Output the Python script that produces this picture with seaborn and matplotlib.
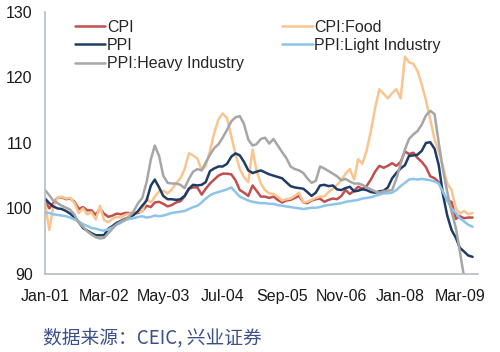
import pandas as pd
import matplotlib
matplotlib.use('Agg')
import matplotlib.pyplot as plt
import seaborn as sns
from matplotlib.lines import Line2D

# monthly, Jan-2001 .. Jun-2009
months = pd.date_range('2001-01-01', periods=102, freq='MS')

cpi = [
    101.2, 100.0, 100.8, 101.6, 101.7, 101.4, 101.5, 101.0, 99.9, 100.2, 99.7, 99.7,
    99.0, 100.0, 99.2, 98.7, 98.9, 99.2, 99.1, 99.3, 99.3, 99.2, 99.3, 99.6,
    100.4, 100.2, 100.9, 101.0, 100.7, 100.3, 100.5, 100.9, 101.1, 101.8, 103.0, 103.2,
    103.2, 102.1, 103.0, 103.8, 104.4, 105.0, 105.3, 105.3, 105.2, 104.3, 102.8, 102.4,
    101.9, 103.5, 102.7, 101.8, 101.8, 101.6, 101.8, 101.3, 100.9, 101.2, 101.3, 101.6,
    101.9, 100.9, 100.8, 101.2, 101.4, 101.5, 101.0, 101.3, 101.5, 101.4, 101.9, 102.8,
    102.2, 102.7, 103.3, 103.0, 103.4, 104.4, 105.6, 106.5, 106.2, 106.5, 106.9, 106.5,
    107.1, 108.7, 108.3, 108.5, 107.7, 107.1, 106.3, 104.9, 104.6, 104.0, 102.4, 101.2,
    101.0, 98.4, 98.8, 98.5, 98.6, 98.6,
]
cpi_food = [
    100.8, 96.7, 100.2, 101.6, 101.8, 101.5, 101.6, 100.8, 99.3, 100.0, 99.1, 99.4,
    98.3, 100.4, 98.2, 97.9, 98.4, 98.7, 98.6, 99.0, 99.2, 99.1, 99.5, 99.5,
    101.5, 100.9, 101.8, 102.6, 102.7, 102.3, 102.9, 103.8, 104.6, 106.0, 108.4, 108.1,
    107.6, 105.8, 106.5, 108.8, 111.5, 113.6, 114.5, 113.8, 111.0, 108.3, 106.0, 104.8,
    104.0, 109.0, 105.8, 103.8, 102.8, 102.3, 102.2, 101.8, 101.2, 101.4, 101.5, 101.9,
    102.4, 100.9, 101.0, 101.3, 101.6, 101.8, 101.8, 102.5, 103.0, 103.6, 104.3, 105.3,
    106.0, 104.4, 107.5, 106.8, 108.8, 111.8, 115.3, 118.2, 117.5, 116.8, 117.6, 118.2,
    116.8, 123.2, 122.3, 122.1, 121.0, 118.9, 116.5, 113.6, 110.5, 108.6, 106.3, 103.8,
    102.8, 100.0, 99.2, 99.6, 99.1, 99.3,
]
ppi = [
    101.5, 100.8, 100.3, 100.0, 99.9, 99.6, 99.2, 98.6, 97.9, 97.0, 96.6, 96.2,
    95.9, 95.9, 95.9, 96.9, 97.3, 97.8, 98.1, 98.4, 98.7, 99.0, 99.6, 100.4,
    101.2, 103.5, 104.4, 103.2, 101.9, 101.4, 101.4, 101.3, 101.4, 101.9, 103.0, 103.6,
    103.5, 103.6, 104.0, 105.7, 106.1, 106.4, 106.4, 106.8, 107.9, 108.4, 108.1, 107.1,
    105.8, 105.4, 105.6, 105.8, 105.5, 105.2, 105.0, 104.8, 104.6, 104.0, 103.4, 103.2,
    103.1, 103.0, 102.5, 101.9, 102.4, 103.5, 103.6, 103.4, 103.5, 102.9, 102.8, 103.1,
    103.3, 102.6, 102.7, 102.9, 102.8, 102.5, 102.4, 102.6, 102.7, 103.2, 104.6, 105.4,
    106.1, 106.6, 108.0, 108.1, 108.2, 108.8, 110.0, 110.1, 109.1, 106.6, 102.0, 98.9,
    96.7, 95.5, 94.0, 93.4, 92.8, 92.6,
]
ppi_light = [
    99.4, 99.3, 99.1, 99.0, 98.9, 98.8, 98.6, 98.3, 98.0, 97.6, 97.3, 97.0,
    96.9, 96.7, 96.6, 96.8, 97.1, 97.5, 97.8, 98.2, 98.4, 98.5, 98.7, 98.8,
    98.6, 98.7, 98.9, 98.8, 98.9, 99.1, 99.3, 99.4, 99.5, 99.6, 99.9, 100.2,
    100.4, 100.9, 101.5, 102.0, 102.3, 102.5, 102.7, 102.9, 103.2, 102.5, 101.8, 101.5,
    101.2, 101.0, 100.9, 100.8, 100.8, 100.7, 100.7, 100.5, 100.4, 100.3, 100.2, 100.1,
    100.0, 99.9, 100.0, 100.1, 100.1, 100.2, 100.4, 100.5, 100.6, 100.7, 100.8, 101.0,
    101.1, 101.2, 101.3, 101.5, 101.6, 101.7, 101.9, 102.1, 102.3, 102.3, 102.4, 102.8,
    103.4, 103.9, 104.4, 104.5, 104.4, 104.5, 104.4, 104.3, 104.1, 103.8, 102.5, 101.2,
    100.0, 99.3, 98.5, 98.0, 97.5, 97.2,
]
ppi_heavy = [
    102.8, 102.0, 101.2, 100.8, 100.4, 100.1, 99.8, 99.0, 97.8, 97.2, 96.5, 96.0,
    95.6, 95.4, 95.5, 96.2, 96.9, 97.6, 98.0, 98.3, 98.8, 99.6, 100.8, 101.6,
    104.0, 107.5, 109.6, 108.0, 105.0, 103.9, 103.8, 103.8, 103.6, 103.1, 104.5, 105.6,
    106.0, 105.8, 107.0, 108.2, 109.2, 109.8, 110.8, 112.0, 113.3, 113.9, 114.1, 112.9,
    110.5, 109.6, 109.8, 110.6, 110.8, 109.9, 110.6, 109.6, 108.6, 107.7, 106.4, 106.0,
    105.8, 105.4, 104.6, 103.9, 104.2, 106.4, 106.1, 105.7, 105.3, 104.9, 104.3, 104.5,
    104.1, 103.8, 103.8, 103.6, 103.2, 102.9, 102.6, 102.4, 102.6, 102.7, 102.8, 104.5,
    106.8, 109.0, 110.6, 111.3, 111.8, 112.8, 114.2, 114.9, 114.4, 110.0, 105.8, 102.5,
    99.5, 97.0, 93.5, 89.5, 87.6, 86.8,
]

series_names = ['CPI', 'CPI:Food', 'PPI', 'PPI:Light Industry', 'PPI:Heavy Industry']
colors = ['#c0504d', '#f9c58f', '#1f3c64', '#8cc4ec', '#a6a6a6']
tick_labels = ['Jan-01', 'Mar-02', 'May-03', 'Jul-04', 'Sep-05', 'Nov-06', 'Jan-08', 'Mar-09']
tick_dates = pd.date_range('2001-01-01', periods=8, freq='14MS')
y_ticks = [90, 100, 110, 120, 130]
source_text = '数据来源：CEIC, 兴业证券'

frames = []
for name, vals in zip(series_names, [cpi, cpi_food, ppi, ppi_light, ppi_heavy]):
    frames.append(pd.DataFrame({'date': months, 'value': vals, 'series': name}))
df = pd.concat(frames, ignore_index=True)

sns.set_style('white')
plt.rcParams['font.family'] = ['Liberation Sans', 'DejaVu Sans']

fig = plt.figure(figsize=(5, 3.52), dpi=100)
ax = fig.add_axes([0.09, 0.222, 0.866, 0.744])

sns.lineplot(data=df, x='date', y='value', hue='series', hue_order=series_names,
             palette=colors, linewidth=1.8, legend=False, ax=ax)

ax.set_ylim(90, 130)
ax.set_xlim(pd.Timestamp('2001-01-01'), pd.Timestamp('2009-07-10'))
ax.set_yticks(y_ticks)
ax.set_xticks(tick_dates)
ax.set_xticklabels(tick_labels)
ax.set_xlabel('')
ax.set_ylabel('')

for side in ['top', 'right']:
    ax.spines[side].set_visible(False)
for side in ['left', 'bottom']:
    ax.spines[side].set_color('#b4bcc6')
    ax.spines[side].set_linewidth(1.2)
ax.tick_params(axis='both', direction='in', length=4, color='#b4bcc6',
               labelsize=11.5, labelcolor='#1a1a1a')
ax.tick_params(axis='y', pad=9)
ax.tick_params(axis='x', pad=11)

# legend: column-first so CPI/PPI/Heavy sit on the left
order = [0, 2, 4, 1, 3]
handles = [Line2D([0], [0], color=colors[i], lw=1.8) for i in order]
labels = [series_names[i] for i in order]
ax.legend(handles, labels, ncol=2, loc='upper left', bbox_to_anchor=(0.069, 0.97),
          frameon=False, fontsize=11.5, handlelength=1.9, handletextpad=0.1,
          columnspacing=2.4, labelspacing=0.2, borderpad=0, borderaxespad=0)

fig.text(0.086, 0.04, source_text, color='#3b4f8a', fontsize=13.5,
         family=['Noto Sans CJK SC', 'DejaVu Sans'], va='center', ha='left')

fig.savefig('out.png', dpi=100)
